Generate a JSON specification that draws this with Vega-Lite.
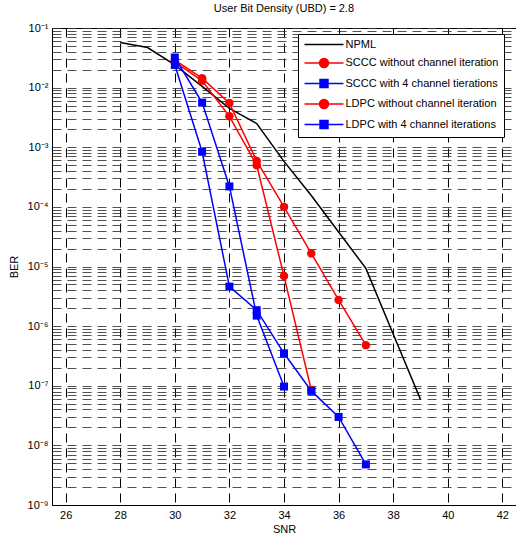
{
  "$schema": "https://vega.github.io/schema/vega-lite/v6.json",
  "width": 464,
  "height": 477,
  "autosize": {"type": "none"},
  "padding": {"left": 52, "top": 28, "right": 0, "bottom": 29},
  "background": "white",
  "title": {"text": "User Bit Density (UBD) = 2.8", "fontSize": 11, "fontWeight": "normal", "color": "black", "offset": 8},
  "config": {
    "font": "Liberation Sans",
    "view": {"stroke": "black", "strokeWidth": 1},
    "axis": {
      "domainColor": "black", "labelColor": "black", "titleColor": "black",
      "labelFontSize": 11, "titleFontSize": 11, "titleFontWeight": "normal",
      "gridColor": "black", "gridDash": [9, 6], "gridWidth": 1,
      "ticks": false, "tickSize": 0
    }
  },
  "data": {"values": [
    {"series": "NPML", "snr": 28, "ber": 0.057},
    {"series": "NPML", "snr": 29, "ber": 0.047},
    {"series": "NPML", "snr": 30, "ber": 0.024},
    {"series": "NPML", "snr": 31, "ber": 0.0105},
    {"series": "NPML", "snr": 32, "ber": 0.0045},
    {"series": "NPML", "snr": 33, "ber": 0.0025},
    {"series": "NPML", "snr": 34, "ber": 0.00058},
    {"series": "NPML", "snr": 35, "ber": 0.000155},
    {"series": "NPML", "snr": 36, "ber": 0.000038},
    {"series": "NPML", "snr": 37, "ber": 0.0000093},
    {"series": "NPML", "snr": 38, "ber": 7.4e-7},
    {"series": "NPML", "snr": 39, "ber": 5.9e-8},
    {"series": "SCCC without channel iteration", "snr": 30, "ber": 0.029},
    {"series": "SCCC without channel iteration", "snr": 31, "ber": 0.0144},
    {"series": "SCCC without channel iteration", "snr": 32, "ber": 0.0055},
    {"series": "SCCC without channel iteration", "snr": 33, "ber": 0.00059},
    {"series": "SCCC without channel iteration", "snr": 34, "ber": 0.0001},
    {"series": "SCCC without channel iteration", "snr": 35, "ber": 0.0000166},
    {"series": "SCCC without channel iteration", "snr": 36, "ber": 0.00000275},
    {"series": "SCCC without channel iteration", "snr": 37, "ber": 4.8e-7},
    {"series": "SCCC with 4 channel tierations", "snr": 30, "ber": 0.024},
    {"series": "SCCC with 4 channel tierations", "snr": 31, "ber": 0.00084},
    {"series": "SCCC with 4 channel tierations", "snr": 32, "ber": 0.0000046},
    {"series": "SCCC with 4 channel tierations", "snr": 33, "ber": 0.00000185},
    {"series": "SCCC with 4 channel tierations", "snr": 34, "ber": 3.5e-7},
    {"series": "SCCC with 4 channel tierations", "snr": 35, "ber": 8.2e-8},
    {"series": "SCCC with 4 channel tierations", "snr": 36, "ber": 3.0e-8},
    {"series": "SCCC with 4 channel tierations", "snr": 37, "ber": 4.8e-9},
    {"series": "LDPC without channel iteration", "snr": 30, "ber": 0.027},
    {"series": "LDPC without channel iteration", "snr": 31, "ber": 0.013},
    {"series": "LDPC without channel iteration", "snr": 32, "ber": 0.0033},
    {"series": "LDPC without channel iteration", "snr": 33, "ber": 0.0005},
    {"series": "LDPC without channel iteration", "snr": 34, "ber": 0.0000069},
    {"series": "LDPC without channel iteration", "snr": 35, "ber": 8.5e-8},
    {"series": "LDPC with 4 channel iterations", "snr": 30, "ber": 0.032},
    {"series": "LDPC with 4 channel iterations", "snr": 31, "ber": 0.0056},
    {"series": "LDPC with 4 channel iterations", "snr": 32, "ber": 0.00022},
    {"series": "LDPC with 4 channel iterations", "snr": 33, "ber": 0.0000015},
    {"series": "LDPC with 4 channel iterations", "snr": 34, "ber": 9.7e-8}
  ]},
  "layer": [
    {
      "mark": {"type": "line", "strokeWidth": 1.5, "clip": true},
      "encoding": {
        "x": {"field": "snr", "type": "quantitative",
          "scale": {"domain": [25.5, 42.5], "nice": false, "zero": false},
          "axis": {"values": [26, 28, 30, 32, 34, 36, 38, 40, 42], "title": "SNR", "labelPadding": 4, "titlePadding": 3, "grid": true, "gridOpacity": 1}},
        "y": {"field": "ber", "type": "quantitative",
          "scale": {"type": "log", "domain": [1e-9, 0.1], "nice": false},
          "axis": {
            "values": [1e-9, 2e-9, 3e-9, 4e-9, 5e-9, 6e-9, 7e-9, 8e-9, 9e-9,
                       1e-8, 2e-8, 3e-8, 4e-8, 5e-8, 6e-8, 7e-8, 8e-8, 9e-8,
                       1e-7, 2e-7, 3e-7, 4e-7, 5e-7, 6e-7, 7e-7, 8e-7, 9e-7,
                       1e-6, 2e-6, 3e-6, 4e-6, 5e-6, 6e-6, 7e-6, 8e-6, 9e-6,
                       1e-5, 2e-5, 3e-5, 4e-5, 5e-5, 6e-5, 7e-5, 8e-5, 9e-5,
                       1e-4, 2e-4, 3e-4, 4e-4, 5e-4, 6e-4, 7e-4, 8e-4, 9e-4,
                       1e-3, 2e-3, 3e-3, 4e-3, 5e-3, 6e-3, 7e-3, 8e-3, 9e-3,
                       1e-2, 2e-2, 3e-2, 4e-2, 5e-2, 6e-2, 7e-2, 8e-2, 9e-2, 0.1],
            "labelExpr": "abs(log(datum.value)/LN10 - round(log(datum.value)/LN10)) > 0.001 ? '' : '10' + ['⁰','⁻¹','⁻²','⁻³','⁻⁴','⁻⁵','⁻⁶','⁻⁷','⁻⁸','⁻⁹'][-round(log(datum.value)/LN10)]",
            "labelOverlap": false, "labelPadding": 4,
            "title": "BER", "titlePadding": 8,
            "grid": true, "gridColor": "#333", "gridOpacity": 0.85}},
        "color": {"field": "series", "type": "nominal",
          "scale": {"domain": ["NPML", "SCCC without channel iteration", "SCCC with 4 channel tierations", "LDPC without channel iteration", "LDPC with 4 channel iterations"],
                    "range": ["#000000", "#ff0000", "#0000ff", "#ff0000", "#0000ff"]},
          "legend": {
            "orient": "none", "legendX": 246, "legendY": 6,
            "title": null, "padding": 5, "strokeColor": "black", "fillColor": "white",
            "labelFontSize": 11, "labelColor": "black", "labelLimit": 400,
            "symbolSize": 64, "symbolOffset": 15.5, "labelOffset": 16, "rowPadding": 5.5,
            "symbolStrokeWidth": 1.5
          }}
      }
    },
    {
      "transform": [{"filter": "indexof(datum.series, 'without') >= 0"}],
      "mark": {"type": "point", "shape": "circle", "filled": true, "size": 72, "opacity": 1},
      "encoding": {
        "x": {"field": "snr", "type": "quantitative"},
        "y": {"field": "ber", "type": "quantitative"},
        "color": {"field": "series", "type": "nominal"}
      }
    },
    {
      "transform": [{"filter": "indexof(datum.series, 'with 4') >= 0"}],
      "mark": {"type": "point", "shape": "square", "filled": true, "size": 64, "opacity": 1},
      "encoding": {
        "x": {"field": "snr", "type": "quantitative"},
        "y": {"field": "ber", "type": "quantitative"},
        "color": {"field": "series", "type": "nominal"}
      }
    },
    {
      "transform": [{"filter": "false"}],
      "mark": {"type": "point", "filled": true, "opacity": 1},
      "encoding": {
        "x": {"field": "snr", "type": "quantitative"},
        "y": {"field": "ber", "type": "quantitative"},
        "color": {"field": "series", "type": "nominal"},
        "shape": {"field": "series", "type": "nominal",
          "scale": {"domain": ["NPML", "SCCC without channel iteration", "SCCC with 4 channel tierations", "LDPC without channel iteration", "LDPC with 4 channel iterations"],
                    "range": [
                      "M-4.875,0H4.875M-0.02,-0.02H0.02V0.02H-0.02Z",
                      "M-4.875,0H4.875M-1.125,0A1.125,1.125,0,1,0,1.125,0A1.125,1.125,0,1,0,-1.125,0Z",
                      "M-4.875,0H4.875M-1,-1H1V1H-1Z",
                      "M-4.875,0H4.875M-1.125,0A1.125,1.125,0,1,0,1.125,0A1.125,1.125,0,1,0,-1.125,0Z",
                      "M-4.875,0H4.875M-1,-1H1V1H-1Z"]},
          "legend": {
            "orient": "none", "legendX": 246, "legendY": 6,
            "title": null, "padding": 5, "strokeColor": "black", "fillColor": "white",
            "labelFontSize": 11, "labelColor": "black", "labelLimit": 400,
            "symbolSize": 64, "symbolOffset": 15.5, "labelOffset": 16, "rowPadding": 5.5,
            "symbolStrokeWidth": 1.5
          }}
      }
    }
  ]
}
